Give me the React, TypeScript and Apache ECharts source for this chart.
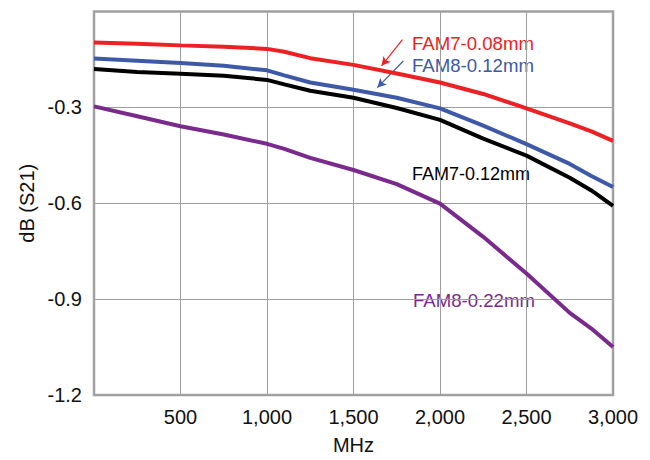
import React, { useEffect, useRef } from "react";
import * as echarts from "echarts";

const freqs = [0, 250, 500, 750, 1000, 1100, 1250, 1500, 1750, 2000, 2250, 2500, 2750, 2875, 3000];
const fam7_008 = [-0.097, -0.101, -0.106, -0.110, -0.117, -0.126, -0.146, -0.167, -0.194, -0.222, -0.258, -0.303, -0.350, -0.375, -0.405];
const fam8_012 = [-0.147, -0.154, -0.161, -0.170, -0.184, -0.200, -0.222, -0.245, -0.270, -0.303, -0.357, -0.415, -0.477, -0.515, -0.549];
const fam7_012 = [-0.180, -0.189, -0.195, -0.201, -0.214, -0.228, -0.248, -0.270, -0.302, -0.339, -0.398, -0.451, -0.520, -0.560, -0.608];
const fam8_022 = [-0.297, -0.328, -0.359, -0.385, -0.414, -0.430, -0.458, -0.496, -0.540, -0.601, -0.705, -0.820, -0.943, -0.992, -1.050];

const seriesNames = ["FAM7-0.08mm", "FAM8-0.12mm", "FAM7-0.12mm", "FAM8-0.22mm"];
const seriesColors = ["#ED2024", "#3D59A8", "#000000", "#7A2A8C"];
const xTicks = { min: 0, max: 3000, interval: 500 };
const yTicks = { min: -1.2, max: 0, interval: 0.3 };

// arrows in data coordinates: [fromX, fromY, toX, toY]
const redArrow = [1783, -0.088, 1662, -0.170];
const blueArrow = [1788, -0.155, 1638, -0.238];

const FONT = "'Liberation Sans', Arial, Helvetica, sans-serif";

export default function App() {
  const ref = useRef<HTMLDivElement>(null);
  useEffect(() => {
    if (!ref.current) return;
    const chart = echarts.init(ref.current, null, { renderer: "svg" });
    const all = [fam7_008, fam8_012, fam7_012, fam8_022];
    const arrows = [redArrow, blueArrow, null, null];
    chart.setOption({
      animation: false,
      textStyle: { fontFamily: FONT },
      grid: {
        left: 94,
        right: 37,
        top: 11.5,
        bottom: 58,
        show: true,
        borderColor: "#A3A3A3",
        borderWidth: 2.5,
        backgroundColor: "transparent",
      },
      xAxis: {
        type: "value",
        min: xTicks.min,
        max: xTicks.max,
        interval: xTicks.interval,
        name: "MHz",
        nameLocation: "middle",
        nameGap: 40,
        nameTextStyle: { fontSize: 20, color: "#111", fontFamily: FONT },
        axisLine: { show: false },
        axisTick: { show: false },
        axisLabel: {
          fontSize: 20,
          color: "#111",
          margin: 12,
          fontFamily: FONT,
          formatter: (v: number) => (v === 0 ? "" : v.toLocaleString("en-US")),
        },
        splitLine: { show: true, lineStyle: { color: "#9E9E9E", width: 1 } },
      },
      yAxis: {
        type: "value",
        min: yTicks.min,
        max: yTicks.max,
        interval: yTicks.interval,
        name: "dB (S21)",
        nameLocation: "middle",
        nameGap: 56,
        nameTextStyle: { fontSize: 20, color: "#111", fontFamily: FONT },
        axisLine: { show: false },
        axisTick: { show: false },
        axisLabel: {
          fontSize: 20,
          color: "#111",
          margin: 12,
          fontFamily: FONT,
          formatter: (v: number) => (Math.abs(v) < 1e-9 ? "" : v.toFixed(1)),
        },
        splitLine: { show: true, lineStyle: { color: "#9E9E9E", width: 1 } },
      },
      series: all.map((vals, i) => {
        const a = arrows[i];
        return {
          type: "line",
          name: seriesNames[i],
          data: freqs.map((f, j) => [f, vals[j]]),
          showSymbol: false,
          symbol: "none",
          lineStyle: { color: seriesColors[i], width: 4 },
          z: 10 - i,
          markLine: a
            ? {
                silent: true,
                symbol: ["none", "arrow"],
                symbolSize: [7, 9],
                label: { show: false },
                lineStyle: { color: seriesColors[i], width: 1.2, type: "solid" },
                data: [[{ coord: [a[0], a[1]] }, { coord: [a[2], a[3]] }]],
              }
            : undefined,
        };
      }),
      graphic: [
        { type: "text", left: 412, top: 34, style: { text: seriesNames[0], fill: seriesColors[0], font: `18.6px ${FONT}` } },
        { type: "text", left: 412, top: 56, style: { text: seriesNames[1], fill: seriesColors[1], font: `18.6px ${FONT}` } },
        { type: "text", left: 412, top: 165, style: { text: seriesNames[2], fill: seriesColors[2], font: `18px ${FONT}` } },
        { type: "text", left: 413, top: 291, style: { text: seriesNames[3], fill: seriesColors[3], font: `18.6px ${FONT}` } },
      ],
    });
    return () => chart.dispose();
  }, []);
  return (
    <div
      ref={ref}
      style={{ position: "fixed", left: 0, top: 0, width: 650, height: 460, background: "#fff" }}
    />
  );
}
